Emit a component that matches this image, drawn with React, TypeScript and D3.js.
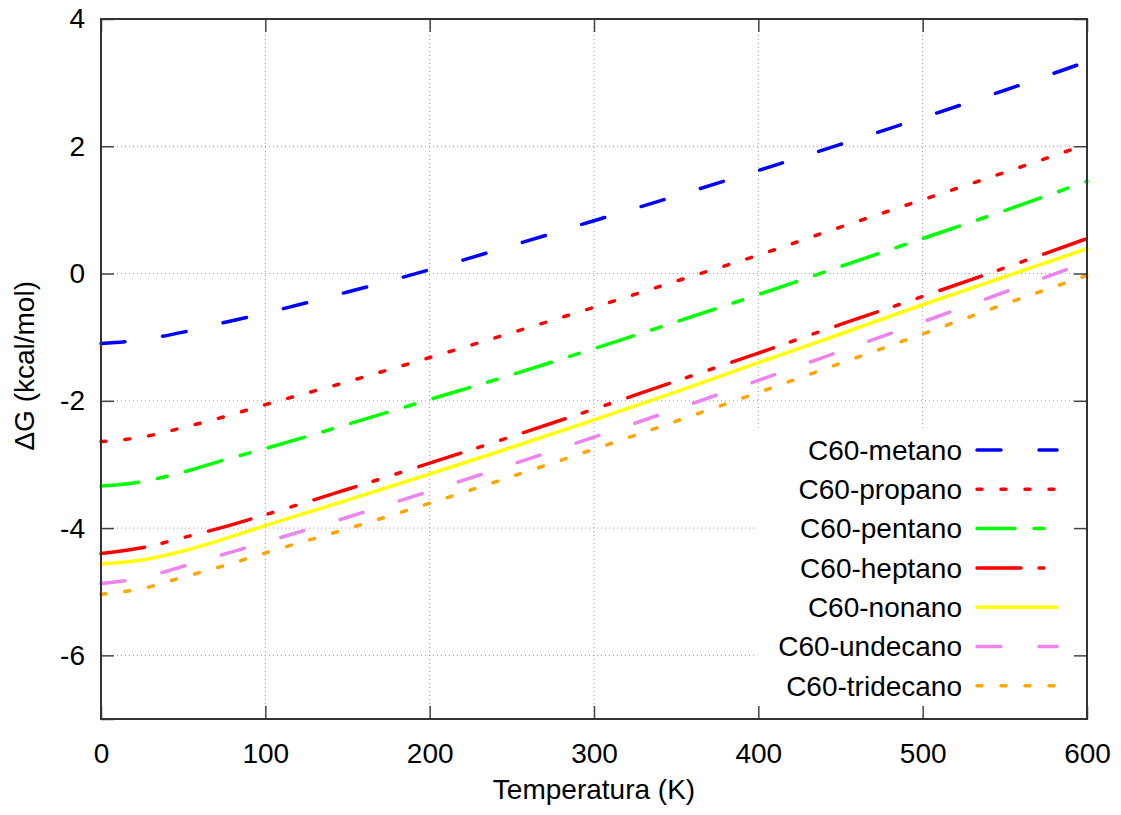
import React, { useEffect, useRef } from 'react';
import * as d3 from 'd3';

// temperatura (K)
const temps = [0, 25, 50, 75, 100, 150, 200, 250, 300, 350, 400, 450, 500, 550, 600];

// ΔG (kcal/mol)
const metano = [-1.10, -1.04, -0.92, -0.77, -0.62, -0.29, 0.06, 0.44, 0.83, 1.22, 1.62, 2.03, 2.45, 2.88, 3.33];
const propano = [-2.64, -2.57, -2.42, -2.25, -2.06, -1.70, -1.32, -0.93, -0.53, -0.12, 0.29, 0.73, 1.16, 1.59, 2.03];
const pentano = [-3.34, -3.27, -3.12, -2.93, -2.75, -2.37, -1.98, -1.59, -1.18, -0.76, -0.33, 0.11, 0.55, 0.99, 1.45];
const heptano = [-4.40, -4.31, -4.15, -3.98, -3.79, -3.39, -2.98, -2.56, -2.13, -1.69, -1.25, -0.80, -0.36, 0.09, 0.55];
const nonano = [-4.56, -4.50, -4.36, -4.17, -3.96, -3.56, -3.15, -2.73, -2.30, -1.86, -1.40, -0.95, -0.49, -0.05, 0.39];
const undecano = [-4.87, -4.78, -4.60, -4.41, -4.22, -3.83, -3.42, -3.00, -2.57, -2.13, -1.68, -1.22, -0.76, -0.29, 0.18];
const tridecano = [-5.04, -4.95, -4.77, -4.59, -4.39, -4.01, -3.61, -3.19, -2.76, -2.32, -1.87, -1.41, -0.95, -0.48, -0.03];

const xTicks = [0, 100, 200, 300, 400, 500, 600];
const yTicks = [-6, -4, -2, 0, 2, 4];

const series = [
  { name: 'C60-metano', values: metano, color: '#0000ff', dash: '24 38' },
  { name: 'C60-propano', values: propano, color: '#ff0000', dash: '5 19' },
  { name: 'C60-pentano', values: pentano, color: '#00ff00', dash: '38 19 10 19' },
  { name: 'C60-heptano', values: heptano, color: '#ff0000', dash: '44 18 5 19 5 19' },
  { name: 'C60-nonano', values: nonano, color: '#ffff00', dash: null },
  { name: 'C60-undecano', values: undecano, color: '#ee82ee', dash: '24 38' },
  { name: 'C60-tridecano', values: tridecano, color: '#ffa500', dash: '5 19' },
];

const App = () => {
  const ref = useRef<SVGSVGElement | null>(null);

  useEffect(() => {
    const W = 1121, H = 815;
    const margin = { top: 19, right: 34, bottom: 96, left: 101 };
    const width = W - margin.left - margin.right;
    const height = H - margin.top - margin.bottom;
    const font = 'Liberation Sans, Arial, sans-serif';
    const fs = 28;

    const root = d3.select(ref.current);
    root.selectAll('*').remove();

    const svg = root.append('g').attr('transform', `translate(${margin.left},${margin.top})`);

    const x = d3.scaleLinear().domain([0, 600]).range([0, width]);
    const y = d3.scaleLinear().domain([-7, 4]).range([height, 0]);

    // grid
    svg.append('g')
      .selectAll('line')
      .data(xTicks.slice(1, -1))
      .join('line')
      .attr('x1', d => x(d)).attr('x2', d => x(d))
      .attr('y1', 0).attr('y2', height)
      .attr('stroke', '#999').attr('stroke-width', 1).attr('stroke-dasharray', '1 3');
    svg.append('g')
      .selectAll('line')
      .data(yTicks.slice(0, -1))
      .join('line')
      .attr('x1', 0).attr('x2', width)
      .attr('y1', d => y(d)).attr('y2', d => y(d))
      .attr('stroke', '#999').attr('stroke-width', 1).attr('stroke-dasharray', '1 3');

    const line = d3.line<number>()
      .x((_, i) => x(temps[i]))
      .y(d => y(d))
      .curve(d3.curveMonotoneX);

    const plot = svg.append('g');
    series.forEach(s => {
      plot.append('path')
        .datum(s.values)
        .attr('fill', 'none')
        .attr('stroke', s.color)
        .attr('stroke-width', 3.5)
        .attr('stroke-linecap', 'round')
        .attr('stroke-dasharray', s.dash)
        .attr('d', line);
    });

    // legend box (opaque, no border)
    const lx = x(400) - 1, ly = 409;
    svg.append('rect')
      .attr('x', lx).attr('y', ly)
      .attr('width', width - lx).attr('height', height - ly)
      .attr('fill', '#fff');

    const leg = svg.append('g').attr('font-family', font).attr('font-size', fs);
    series.forEach((s, i) => {
      const cy = 431 + i * 39.3;
      leg.append('text')
        .attr('x', 861).attr('y', cy)
        .attr('dy', '0.35em')
        .attr('text-anchor', 'end')
        .attr('fill', '#000')
        .text(s.name);
      leg.append('line')
        .attr('x1', 876).attr('x2', 956)
        .attr('y1', cy).attr('y2', cy)
        .attr('stroke', s.color)
        .attr('stroke-width', 3.5)
        .attr('stroke-linecap', 'round')
        .attr('stroke-dasharray', s.dash);
    });

    // axes, mirrored ticks inside the frame
    const tick = 13;
    svg.append('g')
      .attr('transform', `translate(0,${height})`)
      .call(d3.axisBottom(x).tickValues(xTicks).tickSize(-tick).tickPadding(24))
      .call(g => g.select('.domain').remove());
    svg.append('g')
      .call(d3.axisTop(x).tickValues(xTicks).tickSize(-tick).tickFormat(() => ''))
      .call(g => g.select('.domain').remove());
    svg.append('g')
      .call(d3.axisLeft(y).tickValues(yTicks.concat([-7])).tickSize(-tick).tickPadding(16)
        .tickFormat(d => (d === -7 ? '' : String(d))))
      .call(g => g.select('.domain').remove());
    svg.append('g')
      .attr('transform', `translate(${width},0)`)
      .call(d3.axisRight(y).tickValues(yTicks).tickSize(-tick).tickFormat(() => ''))
      .call(g => g.select('.domain').remove());

    svg.selectAll('.tick line').attr('stroke', '#444').attr('stroke-width', 1.5);
    svg.selectAll('.tick text')
      .attr('font-family', font)
      .attr('font-size', fs)
      .attr('fill', '#000');

    svg.append('rect')
      .attr('width', width).attr('height', height)
      .attr('fill', 'none')
      .attr('stroke', '#333')
      .attr('stroke-width', 2);

    // axis titles
    root.append('text')
      .attr('x', margin.left + width / 2).attr('y', 799)
      .attr('text-anchor', 'middle')
      .attr('font-family', font).attr('font-size', fs)
      .text('Temperatura (K)');
    root.append('text')
      .attr('transform', `translate(34,${margin.top + y(-1.45)}) rotate(-90)`)
      .attr('text-anchor', 'middle')
      .attr('font-family', font).attr('font-size', fs)
      .text('ΔG (kcal/mol)');
  }, []);

  return (
    <svg
      ref={ref}
      width={1121}
      height={815}
      style={{ position: 'absolute', left: 0, top: 0, background: '#fff' }}
    />
  );
};

export default App;
